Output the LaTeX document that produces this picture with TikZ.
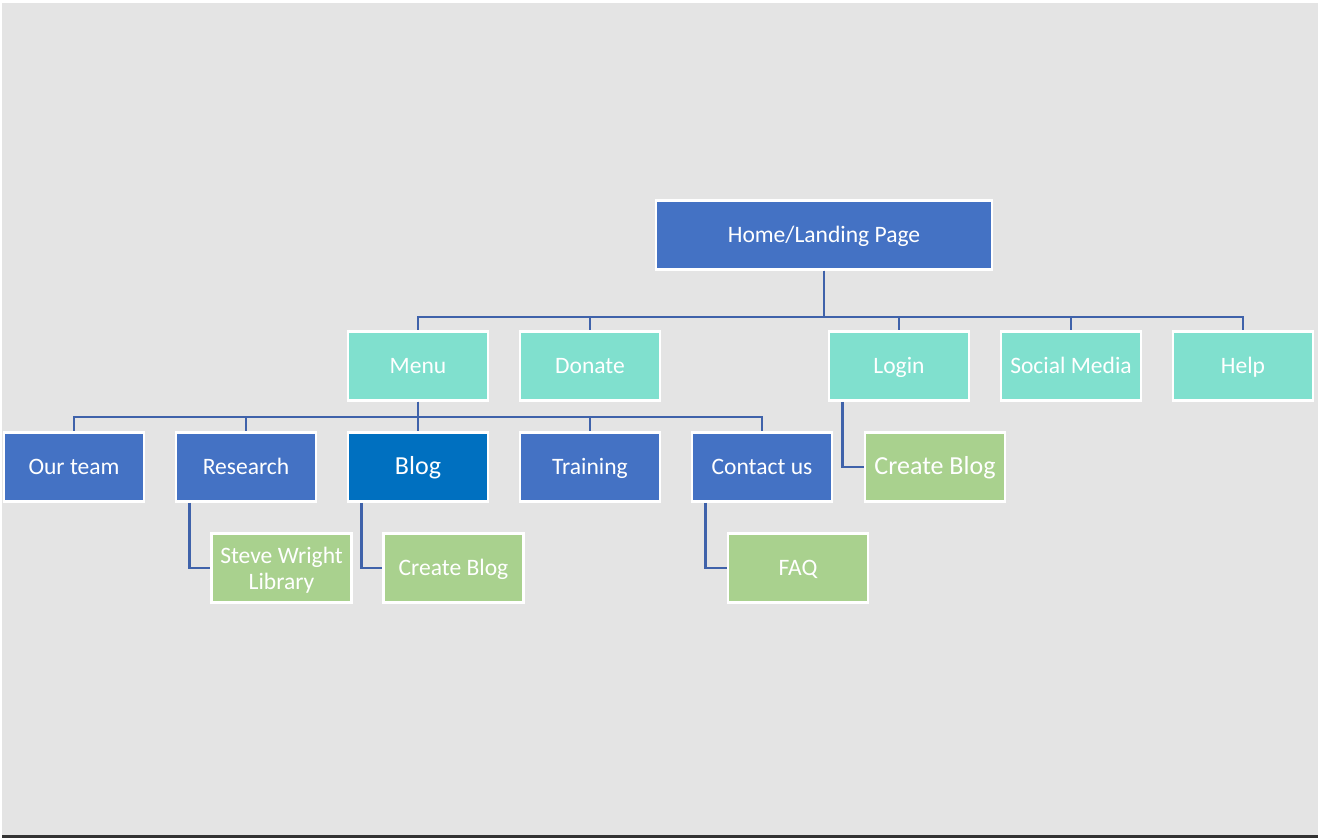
\documentclass[tikz,border=0pt]{standalone}
\usepackage{fontspec}
\setmainfont{Carlito}
\usepackage{tikz}
\usetikzlibrary{positioning}
\definecolor{pagegray}{HTML}{E4E4E4}
\definecolor{darkbar}{HTML}{333333}
\definecolor{homeblue}{HTML}{4472C4}
\definecolor{blogblue}{HTML}{0070C0}
\definecolor{menuteal}{HTML}{80E0CE}
\definecolor{leafgreen}{HTML}{A9D18E}
\definecolor{linkblue}{HTML}{3F62AA}
\tikzset{box/.style={rectangle, draw=white, line width=1.5pt,
    minimum width=2.8cm, minimum height=1.38cm, inner sep=2pt,
    text height=2.15ex, text depth=0.35ex,
    text=white, align=center, font=\fontsize{13.4}{14.8}\selectfont},
  toppage/.style={box, fill=homeblue, minimum width=6.72cm},
  mainitem/.style={box, fill=menuteal},
  subitem/.style={box, fill=homeblue},
  leafitem/.style={box, fill=leafgreen},
  link/.style={draw=linkblue, line width=1.5pt}
}
\begin{document}
\begin{tikzpicture}[node distance=2.02cm and 3.44cm, on grid]
        % page
        \useasboundingbox (0,0) rectangle (26.36,-16.76);
        \fill[pagegray] (0.04,-0.06) rectangle (26.36,-16.70);
        \fill[darkbar]  (0.04,-16.70) rectangle (26.36,-16.76);

        \node[toppage] (home) at (16.48,-4.70) {Home/Landing Page};

        \node[mainitem] (menu)   [below left=2.62cm and 8.12cm of home] {Menu};
        \node[mainitem] (donate) [right=of menu]        {Donate};
        \node[mainitem] (login)  [right=6.18cm of donate] {Login};
        \node[mainitem] (social) [right=of login]       {Social Media};
        \node[mainitem] (help)   [right=of social]      {Help};

        \node[subitem] (blog) [below=of menu, fill=blogblue,
          font=\fontsize{14.8}{16}\selectfont]          {Blog};
        \node[subitem] (research) [left=of blog]        {Research};
        \node[subitem] (team)     [left=of research]    {Our team};
        \node[subitem] (training) [right=of blog]       {Training};
        \node[subitem] (contact)  [right=of training]   {Contact us};

        \node[leafitem] (loginblog)  [below right=2.02cm and 0.72cm of login,
          font=\fontsize{14.8}{16}\selectfont]            {Create Blog};
        \node[leafitem] (library)    [below right=2.02cm and 0.71cm of research,
          text height={}, text depth=0pt]                 {Steve Wright\\Library};
        \node[leafitem] (blogcreate) [below right=2.02cm and 0.71cm of blog]     {Create Blog};
        \node[leafitem] (faq)        [below right=2.02cm and 0.72cm of contact]  {FAQ};

        % connectors
        \foreach \n in {menu,donate,login,social,help}
          \draw[link] (home.south) -- ++(0,-0.92) -| (\n.north);
        \foreach \n in {team,research,blog,training,contact}
          \draw[link] (menu.south) -- ++(0,-0.30) -| (\n.north);
        \draw[link] ([xshift=0.30cm]login.south west)    |- (loginblog.west);
        \draw[link] ([xshift=0.29cm]research.south west) |- (library.west);
        \draw[link] ([xshift=0.29cm]blog.south west)     |- (blogcreate.west);
        \draw[link] ([xshift=0.29cm]contact.south west)  |- (faq.west);
      \end{tikzpicture}
\end{document}
